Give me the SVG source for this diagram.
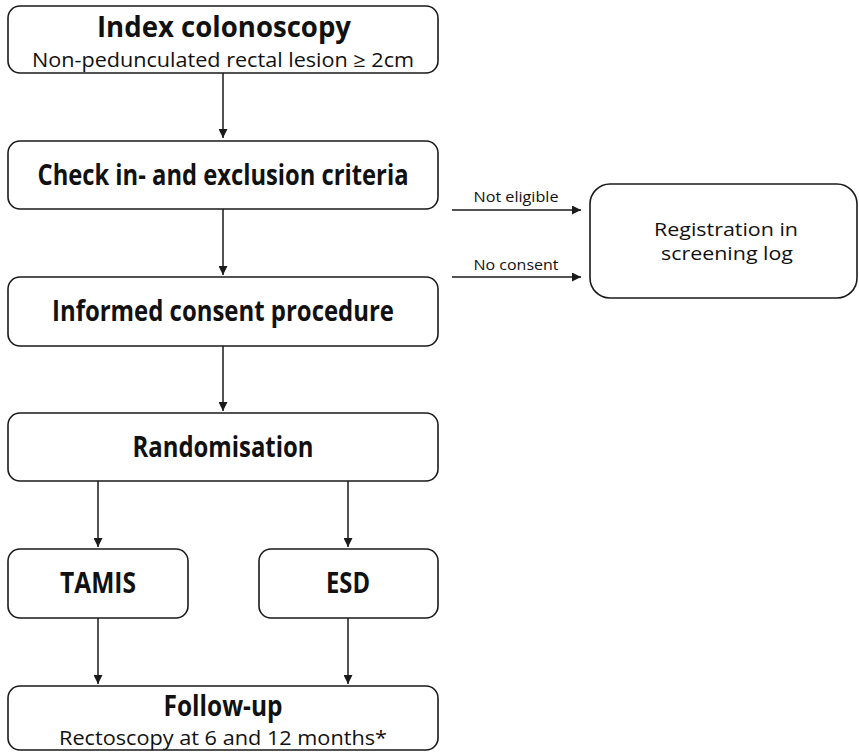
<svg xmlns="http://www.w3.org/2000/svg" width="859" height="752" viewBox="0 0 859 752">
<defs>
<style>
.box{fill:#fff;stroke:#1a1a1a;stroke-width:1.6}
.t{font-family:"Open Sans","Liberation Sans",sans-serif;fill:#111;text-anchor:middle}
.b{font-weight:bold;font-size:28px}
.s{font-size:20px}
.r{font-size:18.5px}
.l{font-size:14.5px}
.c{stroke:#1a1a1a;stroke-width:1.5;fill:none;marker-end:url(#ah)}
</style>
<marker id="ah" viewBox="0 0 10 10" refX="10" refY="5" markerWidth="9" markerHeight="9" markerUnits="userSpaceOnUse" orient="auto">
<path d="M0,0 L10,5 L0,10 z" fill="#1a1a1a"/>
</marker>
</defs>
<rect width="859" height="752" fill="#fff"/>
<g id="connectors">
<line class="c" x1="223" y1="73" x2="223" y2="138"/>
<line class="c" x1="223" y1="209" x2="223" y2="275"/>
<line class="c" x1="223" y1="346" x2="223" y2="411"/>
<line class="c" x1="98" y1="481" x2="98" y2="547"/>
<line class="c" x1="348" y1="481" x2="348" y2="547"/>
<line class="c" x1="98" y1="618" x2="98" y2="684"/>
<line class="c" x1="348" y1="618" x2="348" y2="684"/>
<line class="c" x1="452" y1="210" x2="581" y2="210"/>
<line class="c" x1="452" y1="277" x2="581" y2="277"/>
<text class="t l" x="516" y="202" textLength="85" lengthAdjust="spacingAndGlyphs">Not eligible</text>
<text class="t l" x="516" y="270" textLength="85" lengthAdjust="spacingAndGlyphs">No consent</text>
</g>
<g id="index">
<rect class="box" x="8" y="6" width="430" height="67" rx="12"/>
<text class="t b" x="224" y="37" textLength="254" lengthAdjust="spacingAndGlyphs">Index colonoscopy</text>
<text class="t s" x="223" y="67" textLength="382" lengthAdjust="spacingAndGlyphs">Non-pedunculated rectal lesion ≥ 2cm</text>
</g>
<g id="check">
<rect class="box" x="8" y="141" width="430" height="68" rx="12"/>
<text class="t b" x="223" y="185" textLength="371" lengthAdjust="spacingAndGlyphs">Check in- and exclusion criteria</text>
</g>
<g id="consent">
<rect class="box" x="8" y="277" width="430" height="69" rx="12"/>
<text class="t b" x="223" y="321" textLength="342" lengthAdjust="spacingAndGlyphs">Informed consent procedure</text>
</g>
<g id="random">
<rect class="box" x="8" y="413" width="430" height="68" rx="12"/>
<text class="t b" x="223" y="457" textLength="181" lengthAdjust="spacingAndGlyphs">Randomisation</text>
</g>
<g id="tamis">
<rect class="box" x="8" y="549" width="180" height="69" rx="12"/>
<text class="t b" x="98" y="593" textLength="76" lengthAdjust="spacingAndGlyphs">TAMIS</text>
</g>
<g id="esd">
<rect class="box" x="259" y="549" width="179" height="69" rx="12"/>
<text class="t b" x="348" y="593" textLength="44" lengthAdjust="spacingAndGlyphs">ESD</text>
</g>
<g id="followup">
<rect class="box" x="8" y="686" width="430" height="64" rx="12"/>
<text class="t b" x="223" y="716" textLength="119" lengthAdjust="spacingAndGlyphs">Follow-up</text>
<text class="t s" x="223" y="745" textLength="328" lengthAdjust="spacingAndGlyphs">Rectoscopy at 6 and 12 months*</text>
</g>
<g id="registration">
<rect class="box" x="590" y="184" width="267" height="114" rx="20"/>
<text class="t r" x="726" y="236" textLength="144" lengthAdjust="spacingAndGlyphs">Registration in</text>
<text class="t r" x="727" y="260" textLength="132" lengthAdjust="spacingAndGlyphs">screening log</text>
</g>
</svg>
